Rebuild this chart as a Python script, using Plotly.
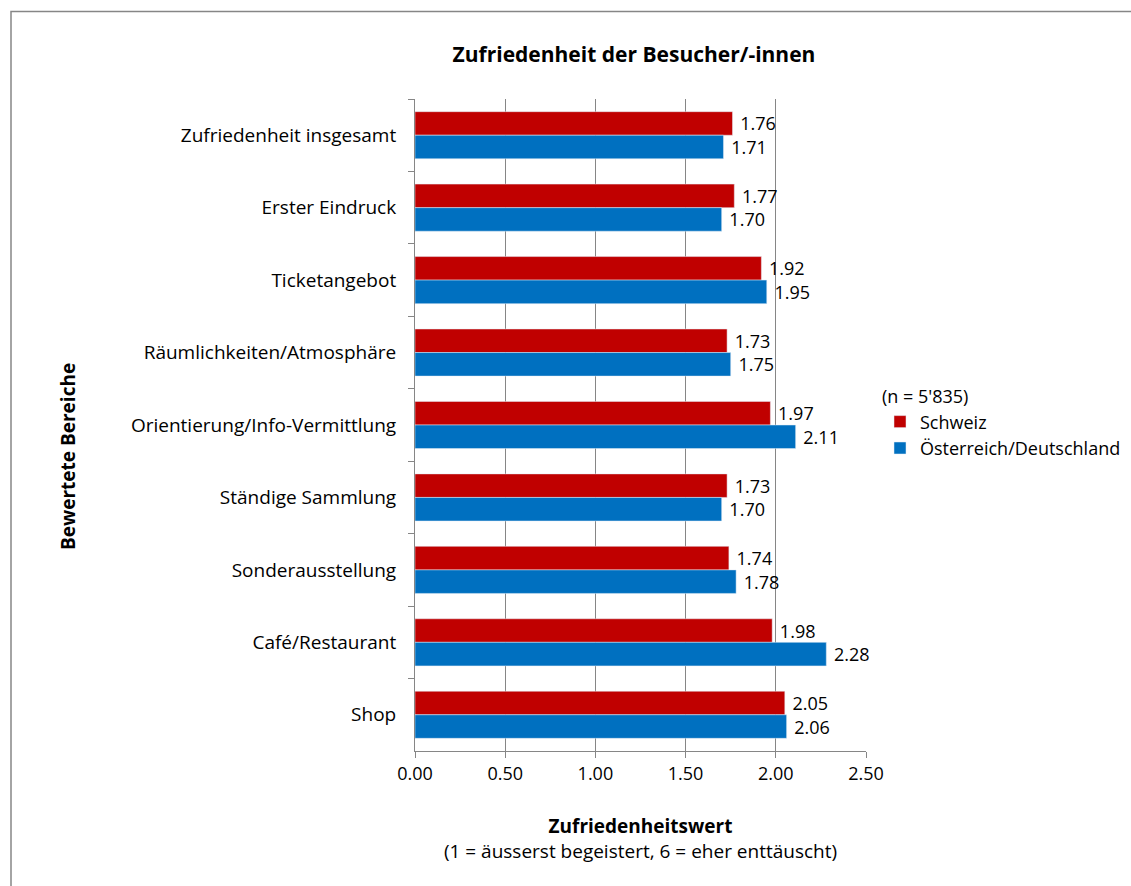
import plotly.graph_objects as go

categories = ["Zufriedenheit insgesamt", "Erster Eindruck", "Ticketangebot",
              "Räumlichkeiten/Atmosphäre", "Orientierung/Info-Vermittlung",
              "Ständige Sammlung", "Sonderausstellung", "Café/Restaurant", "Shop"]
schweiz = [1.76, 1.77, 1.92, 1.73, 1.97, 1.73, 1.74, 1.98, 2.05]
oesterreich = [1.71, 1.70, 1.95, 1.75, 2.11, 1.70, 1.78, 2.28, 2.06]
x_ticks = [0.0, 0.5, 1.0, 1.5, 2.0, 2.5]
x_tick_labels = ["0.00", "0.50", "1.00", "1.50", "2.00", "2.50"]

FONT = "Open Sans"
FS = 19
LFS = 18
W, H = 1131, 886
ML, MR, MT, MB = 415, 265, 99, 135
pw, ph = W - ML - MR, H - MT - MB

def px_x(p):
    return (p - ML) / pw

def px_y(p):
    return (H - MB - p) / ph

fig = go.Figure()
fig.add_trace(go.Bar(
    y=categories, x=schweiz, orientation="h", name="Schweiz",
    marker=dict(color="#C00000"),
    text=[f"{v:.2f}" for v in schweiz], texttemplate=" %{text}",
    textposition="outside", constraintext="none",
    textfont=dict(size=FS - 1, color="#000000", family=FONT),
    cliponaxis=False,
))
fig.add_trace(go.Bar(
    y=categories, x=oesterreich, orientation="h", name="Österreich/Deutschland",
    marker=dict(color="#0070C0"),
    text=[f"{v:.2f}" for v in oesterreich], texttemplate=" %{text}",
    textposition="outside", constraintext="none",
    textfont=dict(size=FS - 1, color="#000000", family=FONT),
    cliponaxis=False,
))

fig.update_layout(
    width=W, height=H,
    margin=dict(l=ML, r=MR, t=MT, b=MB, autoexpand=False),
    paper_bgcolor="white", plot_bgcolor="white",
    font=dict(family=FONT, size=FS, color="#000000"),
    barmode="group", bargap=0.35, bargroupgap=0,
    title=dict(text="<b>Zufriedenheit der Besucher/-innen</b>",
               x=634 / W, xanchor="center",
               y=1 - 55 / H, yanchor="middle",
               font=dict(size=21, family=FONT)),
    xaxis=dict(range=[0, 2.5], tickvals=x_ticks, ticktext=x_tick_labels,
               showgrid=True, gridcolor="#868686", gridwidth=1,
               showline=True, linecolor="#868686", linewidth=1,
               ticks="outside", ticklen=6, tickcolor="#868686",
               zeroline=False, tickfont=dict(size=FS - 1),
               title=dict(text="<b>Zufriedenheitswert</b><br>(1 = äusserst begeistert, 6 = eher enttäuscht)",
                          standoff=36, font=dict(size=FS))),
    yaxis=dict(autorange="reversed", categoryorder="array", categoryarray=categories,
               showline=True, linecolor="#868686", linewidth=1,
               ticks="outside", ticklen=6, tickcolor="#868686", tickson="boundaries",
               showgrid=False, tickfont=dict(size=FS), ticklabelstandoff=14),
    legend=dict(title=dict(text="(n = 5'835)", font=dict(size=LFS)),
                x=px_x(880), xanchor="left", y=px_y(380), yanchor="top",
                font=dict(size=LFS), bgcolor="rgba(0,0,0,0)", itemwidth=30),
    annotations=[dict(text="<b>Bewertete Bereiche</b>", textangle=-90,
                      xref="paper", yref="paper", x=px_x(68), y=px_y(457),
                      xanchor="center", yanchor="middle", showarrow=False,
                      font=dict(size=FS, family=FONT))],
    shapes=[dict(type="rect", xref="paper", yref="paper",
                 x0=px_x(11), x1=px_x(1200), y0=px_y(960), y1=px_y(11.5),
                 line=dict(color="#868686", width=1.5), fillcolor="rgba(0,0,0,0)",
                 layer="below")],
)

fig.write_html("out.html")
